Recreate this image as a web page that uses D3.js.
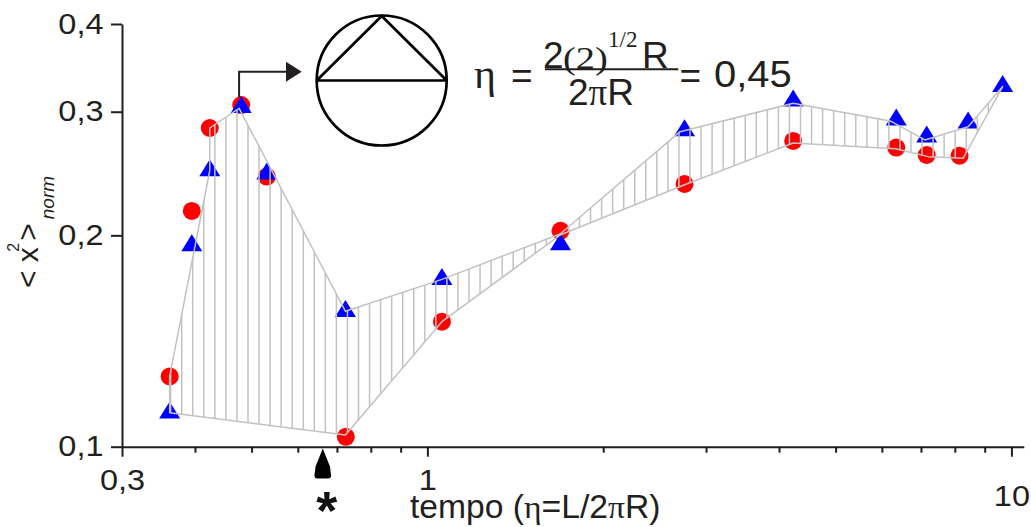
<!DOCTYPE html>
<html><head><meta charset="utf-8">
<script src="https://cdn.jsdelivr.net/npm/d3@7"></script>
<style>html,body{margin:0;padding:0;background:#fff;overflow:hidden}</style>
</head><body>
<svg id="chart" width="1031" height="527"></svg>
<script>
// ---- data ----
const etaRed = [0.362, 0.395, 0.424, 0.480, 0.531, 0.725, 1.059, 1.69, 2.756, 4.23, 6.35, 7.16, 8.15];
const valRed = [0.1259, 0.2167, 0.2844, 0.3066, 0.2425, 0.1033, 0.1507, 0.2030, 0.2367, 0.2726, 0.2667, 0.2603, 0.2597];
const etaBlue = [0.362, 0.395, 0.424, 0.480, 0.531, 0.724, 1.059, 1.69, 2.756, 4.23, 6.35, 7.16, 8.43, 9.66];
const valBlue = [0.1118, 0.1934, 0.2474, 0.3045, 0.2447, 0.1559, 0.1731, 0.1941, 0.2820, 0.3109, 0.2921, 0.2764, 0.2893, 0.3260];
const bandTopEta = [0.362, 0.424, 0.424, 0.476, 0.724, 1.059, 1.687, 2.708, 4.23, 6.20, 7.11, 8.43, 9.66];
const bandTopVal = [0.1259, 0.2474, 0.2844, 0.3034, 0.1559, 0.1731, 0.2009, 0.2810, 0.3084, 0.2911, 0.2735, 0.2856, 0.3258];
const bandBottomEta = [0.362, 0.724, 1.059, 1.687, 2.75, 4.23, 6.33, 7.20, 8.27];
const bandBottomVal = [0.1118, 0.1039, 0.1507, 0.2002, 0.2359, 0.2708, 0.2656, 0.2589, 0.2576];
const xMajorTicks = [0.3, 1, 10];
const xMajorLabels = ["0,3", "1", "10"];
const xMinorTicks = [0.4, 0.5, 0.6, 0.7, 0.8, 0.9, 2, 3, 4, 5, 6, 7, 8, 9];
const yTicks = [0.1, 0.2, 0.3, 0.4];
const yTickLabels = ["0,1", "0,2", "0,3", "0,4"];
const peakEta = 0.476;     // arrow to the inset
const starEta = 0.662;     // "*" marker
const xTitle = ["tempo (", "η", "=L/2", "π", "R)"];

// ---- drawing ----
const svg = d3.select("#chart");
const INK = "#231f20";
const SANS = "'Liberation Sans', Arial, Helvetica, sans-serif";
const SERIF = "'Liberation Serif', 'Times New Roman', serif";
const GREY = "#c2c2c2";

// widen glyphs horizontally (the original lettering is slightly stretched)
function stretch(sel, k) {
  sel.each(function () {
    const w = this.getComputedTextLength();
    this.setAttribute("textLength", w * k);
    this.setAttribute("lengthAdjust", "spacingAndGlyphs");
  });
}

const x = d3.scaleLog().domain([0.3, 10.5]).range([122, 1023.8]);
const y = d3.scaleLog().domain([0.1, 0.4]).range([446.7, 24]);

// markers
svg.append("g").selectAll("circle").data(etaRed.map((e, i) => [e, valRed[i]]))
  .join("circle").attr("cx", d => x(d[0])).attr("cy", d => y(d[1])).attr("r", 9).attr("fill", "#ff0000");
const tri = "M0,-11.3L10.5,5.7L-10.5,5.7Z";
svg.append("g").selectAll("path").data(etaBlue.map((e, i) => [e, valBlue[i]]))
  .join("path").attr("d", tri).attr("transform", d => `translate(${x(d[0])},${y(d[1])})`).attr("fill", "#0000ff");

// band
const poly = bandTopEta.map((e, i) => [e, bandTopVal[i]])
  .concat(bandBottomEta.map((e, i) => [e, bandBottomVal[i]]).reverse());
const line = d3.line().x(d => x(d[0])).y(d => y(d[1]));
svg.append("clipPath").attr("id", "bandclip").append("path").attr("d", line(poly) + "Z");
const x0 = x(d3.min(poly, d => d[0])), x1 = x(d3.max(poly, d => d[0]));
const hatchXs = d3.range(4.9, 1031, 11.05).filter(v => v >= x0 - 1 && v <= x1 + 1);
svg.append("g").attr("clip-path", "url(#bandclip)").selectAll("line").data(hatchXs).join("line")
  .attr("x1", d => d).attr("x2", d => d).attr("y1", 0).attr("y2", 460)
  .attr("stroke", GREY).attr("stroke-width", 1.5);
svg.append("path").attr("d", line(poly) + "Z").attr("fill", "none").attr("stroke", GREY).attr("stroke-width", 1.5).attr("stroke-linejoin", "round");

// axes
const gxMinor = svg.append("g").attr("transform", `translate(0,${y(0.1)})`)
  .call(d3.axisBottom(x).tickValues(xMinorTicks).tickSize(6).tickSizeOuter(0).tickFormat(""));
gxMinor.select(".domain").remove();
const gx = svg.append("g").attr("transform", `translate(0,${y(0.1)})`)
  .call(d3.axisBottom(x).tickValues(xMajorTicks).tickSize(10).tickPadding(12).tickSizeOuter(0)
    .tickFormat((d, i) => xMajorLabels[i]));
const gy = svg.append("g").attr("transform", `translate(${x(0.3)},0)`)
  .call(d3.axisLeft(y).tickValues(yTicks).tickSize(11).tickPadding(7.5).tickSizeOuter(0)
    .tickFormat((d, i) => yTickLabels[i]));
[gxMinor, gx, gy].forEach(g => {
  g.attr("color", INK).attr("font-family", SANS).attr("font-size", 29);
  g.selectAll("line, path").attr("stroke-width", 2);
  g.selectAll("text").attr("fill", INK);
});
gx.selectAll("text").attr("dy", d => d === 10 ? "1.27em" : "0.73em");
stretch(gx.selectAll("text"), 1.12);
stretch(gy.selectAll("text"), 1.12);

// x title
const xt = svg.append("text").attr("x", 410).attr("y", 518).attr("font-family", SANS).attr("font-size", 32.5).attr("fill", INK);
xTitle.forEach((s, i) => xt.append("tspan").text(s).attr("font-family", (i === 1 || i === 3) ? SERIF : SANS));
stretch(xt, 1.035);

// y title
const yt = svg.append("text").attr("transform", "translate(37.5,288) rotate(-90)").attr("font-family", SANS).attr("fill", INK).attr("font-size", 30);
yt.append("tspan").text("< x");
yt.append("tspan").text("2").attr("font-size", 16).attr("dx", -4.5).attr("dy", -19);
yt.append("tspan").text(">").attr("dx", 2).attr("dy", 19);
yt.append("tspan").text("norm").attr("font-size", 19).attr("font-style", "italic").attr("dx", 4).attr("dy", 16);

// star marker below the axis
const sx = x(starEta);
svg.append("path").attr("transform", `translate(${sx},448.5)`)
  .attr("d", "M0,0L7.2,18L8.3,27Q8.3,30 5.5,30L-5.5,30Q-8.3,30 -8.3,27L-7.2,18Z").attr("fill", "#000");
svg.append("text").attr("x", sx + 4).attr("y", 529).attr("text-anchor", "middle")
  .attr("font-family", SANS).attr("font-weight", "bold").attr("font-size", 54).attr("fill", "#111").text("*");

// arrow from peak to inset
const px = x(peakEta);
const ann = svg.append("g").attr("stroke", INK).attr("stroke-width", 2).attr("fill", "none");
ann.append("path").attr("d", `M${px},97V71.7H287`);
svg.append("path").attr("d", "M286,61.7L301.7,71.7L286,81.7Z").attr("fill", INK);

// inset circle
const ins = svg.append("g").attr("stroke", "#000").attr("stroke-width", 2.7).attr("fill", "none");
ins.append("circle").attr("cx", 381.7).attr("cy", 80.5).attr("r", 65);
ins.append("path").attr("d", "M316.7,80.5L446.7,80.5M316.7,80.5L381.7,16L446.7,80.5").attr("stroke-linejoin", "miter");

// formula
const F = svg.append("g").attr("fill", INK);
F.append("text").attr("x", 474).attr("y", 88).attr("font-family", SERIF).attr("font-size", 42).text("η");
F.append("text").attr("x", 511).attr("y", 88).attr("font-family", SANS).attr("font-size", 37).text("=");
F.append("text").attr("x", 543).attr("y", 68).attr("font-family", SANS).attr("font-size", 37).text("2");
const paren = F.append("text").attr("x", 563).attr("y", 69).attr("font-family", SERIF).attr("font-size", 32).text("(2)");
stretch(paren, 1.2);
F.append("text").attr("x", 608).attr("y", 47).attr("font-family", SERIF).attr("font-size", 23).text("1/2");
F.append("text").attr("x", 642).attr("y", 68).attr("font-family", SANS).attr("font-size", 37).text("R");
svg.append("line").attr("x1", 545).attr("x2", 678.3).attr("y1", 69.3).attr("y2", 69.3).attr("stroke", INK).attr("stroke-width", 2);
const den = F.append("text").attr("x", 568).attr("y", 105).attr("font-family", SANS).attr("font-size", 37);
den.append("tspan").text("2");
den.append("tspan").text("π").attr("font-family", SERIF);
den.append("tspan").text("R");
F.append("text").attr("x", 679.5).attr("y", 88).attr("font-family", SANS).attr("font-size", 37).text("=");
const val = F.append("text").attr("x", 714).attr("y", 87).attr("font-family", SANS).attr("font-size", 37).text("0,45");
stretch(val, 1.08);
</script>
</body></html>
